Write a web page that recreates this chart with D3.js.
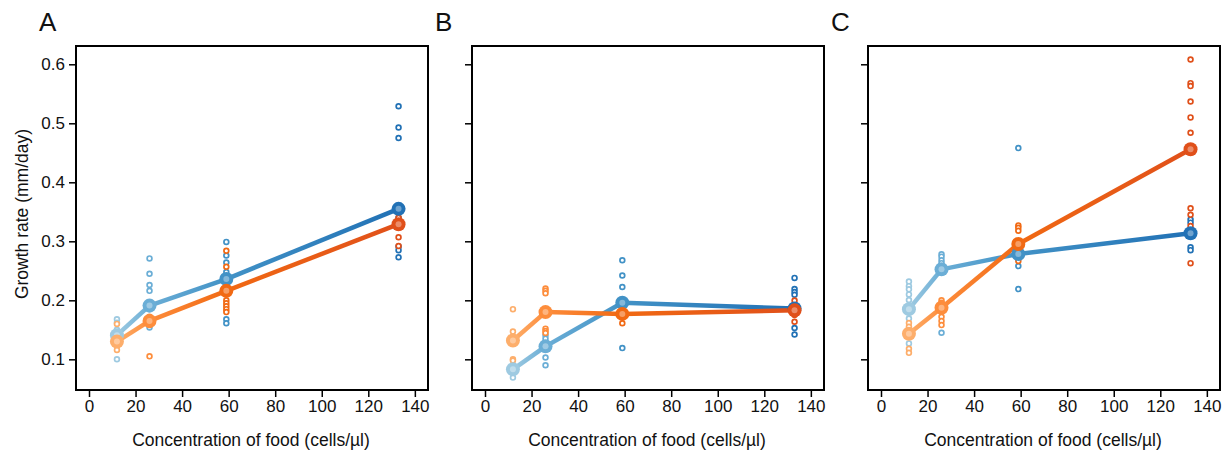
<!DOCTYPE html>
<html>
<head>
<meta charset="utf-8">
<script src="https://cdn.jsdelivr.net/npm/d3@7"></script>
<style>
  body { margin: 0; background: #fff; }
  text { font-family: "Liberation Sans", Arial, sans-serif; fill: #111; }
</style>
</head>
<body>
<div id="chart"></div>
<script>
// food concentrations (cells/ul)
const conc = [12, 26, 59, 133];
const xTicks = [0, 20, 40, 60, 80, 100, 120, 140];
const yTicks = [0.1, 0.2, 0.3, 0.4, 0.5, 0.6];
const panelNames = ['A', 'B', 'C'];

// panel A
const aBlueMean = [0.141, 0.191, 0.236, 0.355];
const aOrangeMean = [0.130, 0.165, 0.216, 0.329];
const aBluePts = [
  [0.168, 0.162, 0.150, 0.140, 0.100],
  [0.271, 0.245, 0.226, 0.216, 0.185, 0.160, 0.154],
  [0.299, 0.276, 0.264, 0.248, 0.235, 0.168, 0.161],
  [0.529, 0.493, 0.475, 0.340, 0.291, 0.285, 0.273]
];
const aOrangePts = [
  [0.160, 0.135, 0.123, 0.116],
  [0.172, 0.165, 0.158, 0.105],
  [0.284, 0.257, 0.220, 0.200, 0.195, 0.190, 0.185, 0.180],
  [0.350, 0.340, 0.330, 0.307, 0.292]
];

// panel B
const bBlueMean = [0.083, 0.122, 0.196, 0.186];
const bOrangeMean = [0.132, 0.180, 0.177, 0.183];
const bBluePts = [
  [0.088, 0.080, 0.069],
  [0.141, 0.135, 0.103, 0.090],
  [0.268, 0.242, 0.2225, 0.119],
  [0.238, 0.219, 0.214, 0.2095, 0.190, 0.153, 0.142]
];
const bOrangePts = [
  [0.185, 0.147, 0.100, 0.098],
  [0.220, 0.216, 0.212, 0.152, 0.148, 0.1446],
  [0.185, 0.175, 0.161],
  [0.1995, 0.190, 0.175, 0.1637]
];

// panel C
const cBlueMean = [0.185, 0.2525, 0.2785, 0.3136];
const cOrangeMean = [0.1434, 0.1875, 0.2954, 0.456];
const cBluePts = [
  [0.232, 0.224, 0.2186, 0.210, 0.2005, 0.169, 0.127],
  [0.278, 0.274, 0.268, 0.263, 0.145],
  [0.458, 0.258, 0.219],
  [0.337, 0.3316, 0.310, 0.290, 0.285]
];
const cOrangePts = [
  [0.1615, 0.155, 0.118, 0.111],
  [0.200, 0.196, 0.192, 0.172, 0.165, 0.158],
  [0.327, 0.323, 0.318, 0.285, 0.2666],
  [0.608, 0.568, 0.563, 0.537, 0.510, 0.484, 0.356, 0.345, 0.326, 0.263]
];

const blues = ['#9ecae1', '#6baed6', '#4292c6', '#2171b5'];
const oranges = ['#fdae6b', '#fd8d3c', '#f16913', '#e0501a'];

const panels = [
  { blueMean: aBlueMean, orangeMean: aOrangeMean, bluePts: aBluePts, orangePts: aOrangePts },
  { blueMean: bBlueMean, orangeMean: bOrangeMean, bluePts: bBluePts, orangePts: bOrangePts },
  { blueMean: cBlueMean, orangeMean: cOrangeMean, bluePts: cBluePts, orangePts: cOrangePts }
];

const W = 1231, H = 452;
const lefts = [76, 472, 868];
const plotTop = 46, pw = 352, ph = 344;

const svg = d3.select('#chart').append('svg')
    .attr('width', W)
    .attr('height', H);
const defs = svg.append('defs');

// Y Scale (shared)
const y = d3.scaleLinear()
    .domain([0.048, 0.631])
    .range([ph, 0]);

panels.forEach(function (p, pi) {
  const g = svg.append('g')
      .attr('transform', 'translate(' + lefts[pi] + ',' + plotTop + ')');

  const x = d3.scaleLinear()
      .domain([-13 / 2.3275, (pw - 13) / 2.3275])
      .range([0, pw]);

  // X Axis
  const xAxis = g.append('g')
      .attr('transform', 'translate(0,' + ph + ')')
      .call(d3.axisBottom(x).tickValues(xTicks).tickSize(7).tickPadding(3));
  xAxis.select('.domain').remove();
  xAxis.selectAll('line').attr('stroke', '#000').attr('stroke-width', 1.5);
  xAxis.selectAll('text').attr('font-size', '17px').attr('fill', '#111');

  // Y Axis
  const yAxis = g.append('g')
      .call(d3.axisLeft(y).tickValues(yTicks).tickSize(7).tickPadding(4)
        .tickFormat(pi === 0 ? d3.format('.1f') : ''));
  yAxis.select('.domain').remove();
  yAxis.selectAll('line').attr('stroke', '#000').attr('stroke-width', 1.5);
  yAxis.selectAll('text').attr('font-size', '17px').attr('fill', '#111');

  // frame
  g.append('rect')
      .attr('width', pw)
      .attr('height', ph)
      .attr('fill', 'none')
      .attr('stroke', '#000')
      .attr('stroke-width', 2);

  // panel letter
  svg.append('text')
      .attr('x', lefts[pi] - 37)
      .attr('y', 31)
      .attr('font-size', '26px')
      .text(panelNames[pi]);

  // X Label
  g.append('text')
      .attr('x', pw / 2 - 1)
      .attr('y', ph + 56)
      .attr('font-size', '17.5px')
      .attr('text-anchor', 'middle')
      .text('Concentration of food (cells/µl)');

  const series = [
    { means: p.blueMean, pts: p.bluePts, cols: blues, id: 'b' },
    { means: p.orangeMean, pts: p.orangePts, cols: oranges, id: 'o' }
  ];

  // individual points
  series.forEach(function (s) {
    s.pts.forEach(function (vals, i) {
      g.selectAll(null)
          .data(vals)
          .enter()
          .append('circle')
          .attr('cx', x(conc[i]))
          .attr('cy', function (d) { return y(d); })
          .attr('r', 2.4)
          .attr('fill', '#fff')
          .attr('stroke', s.cols[i])
          .attr('stroke-width', 1.7);
    });
  });

  // lines with colour gradient per segment
  series.forEach(function (s) {
    for (let i = 0; i < conc.length - 1; i++) {
      const gid = 'grad' + pi + s.id + i;
      const grad = defs.append('linearGradient')
          .attr('id', gid)
          .attr('gradientUnits', 'userSpaceOnUse')
          .attr('x1', x(conc[i])).attr('y1', 0)
          .attr('x2', x(conc[i + 1])).attr('y2', 0);
      grad.append('stop').attr('offset', '0%').attr('stop-color', s.cols[i]);
      grad.append('stop').attr('offset', '100%').attr('stop-color', s.cols[i + 1]);
      g.append('line')
          .attr('x1', x(conc[i]))
          .attr('y1', y(s.means[i]))
          .attr('x2', x(conc[i + 1]))
          .attr('y2', y(s.means[i + 1]) + 0.001)
          .attr('stroke', 'url(#' + gid + ')')
          .attr('stroke-width', 4.5);
    }
  });

  // means
  series.forEach(function (s) {
    g.selectAll(null)
        .data(s.means)
        .enter()
        .append('circle')
        .attr('cx', function (d, i) { return x(conc[i]); })
        .attr('cy', function (d) { return y(d); })
        .attr('r', 7)
        .attr('fill', function (d, i) { return s.cols[i]; });
    g.selectAll(null)
        .data(s.means)
        .enter()
        .append('circle')
        .attr('cx', function (d, i) { return x(conc[i]); })
        .attr('cy', function (d) { return y(d); })
        .attr('r', 3)
        .attr('fill', function (d, i) { return d3.interpolateRgb(s.cols[i], '#fff')(0.35); });
  });
});

// Y Label
svg.append('text')
    .attr('transform', 'translate(28,' + (plotTop + ph / 2 - 4) + ') rotate(-90)')
    .attr('font-size', '17.5px')
    .attr('text-anchor', 'middle')
    .text('Growth rate (mm/day)');
</script>
</body>
</html>
